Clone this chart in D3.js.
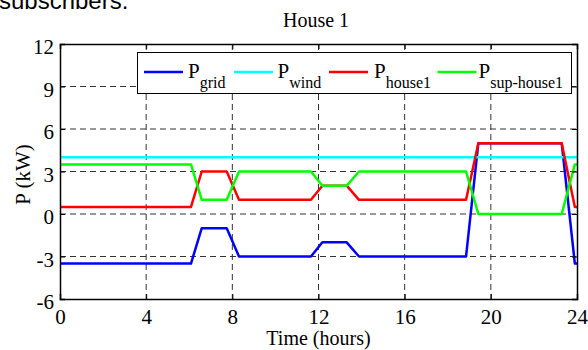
<!DOCTYPE html>
<html><head><meta charset="utf-8">
<script src="https://cdn.jsdelivr.net/npm/d3@7"></script>
<style>body{margin:0;background:#fff;}svg{display:block;}</style>
</head><body>
<script>
const hours = [0, 6.08, 6.58, 7.74, 8.31, 11.65, 12.18, 13.31, 13.88, 18.85, 19.42, 23.29, 23.9, 24];
const pGrid = [-3.5, -3.5, -1, -1, -3, -3, -2, -2, -3, -3, 5, 5, -3.5, -3.5];
const pWind = [4, 4, 4, 4, 4, 4, 4, 4, 4, 4, 4, 4, 4, 4];
const pHouse1 = [0.5, 0.5, 3, 3, 1, 1, 2, 2, 1, 1, 5, 5, 0.5, 0.5];
const pSupHouse1 = [3.5, 3.5, 1, 1, 3, 3, 2, 2, 3, 3, 0, 0, 3.5, 3.5];
const xTicks = [0, 4, 8, 12, 16, 20, 24];
const yTicks = [-6, -3, 0, 3, 6, 9, 12];
const seriesNames = [["P", "grid"], ["P", "wind"], ["P", "house1"], ["P", "sup-house1"]];
const seriesColors = ["#0000ff", "#00ffff", "#ff0000", "#00ff00"];

const W = 588, H = 350;
const m = {l: 60, r: 11, t: 44, b: 51};
const svg = d3.select("body").append("svg").attr("width", W).attr("height", H);
const x = d3.scaleLinear().domain([0, 24]).range([m.l, W - m.r]);
const y = d3.scaleLinear().domain([-6, 12]).range([H - m.b, m.t]);
const serif = "'Liberation Serif','Times New Roman',serif";

// leftover text from the page (cut at the top, as in the reference)
svg.append("text").attr("x", -1).attr("y", 9).attr("font-family", "'Liberation Sans',Arial,sans-serif")
  .attr("font-size", 24).text("subscribers.");

// grid
const g = svg.append("g");
g.selectAll(".gx").data(xTicks.slice(1, -1)).enter().append("line")
  .attr("x1", d => x(d)).attr("x2", d => x(d)).attr("y1", y(12)).attr("y2", y(-6))
  .attr("stroke", "#333").attr("stroke-width", 1).attr("stroke-dasharray", "6,4");
g.selectAll(".gy").data(yTicks.slice(1, -1)).enter().append("line")
  .attr("y1", d => y(d)).attr("y2", d => y(d)).attr("x1", x(0)).attr("x2", x(24))
  .attr("stroke", "#333").attr("stroke-width", 1).attr("stroke-dasharray", "6,4");

// lines
svg.append("clipPath").attr("id", "clip").append("rect")
  .attr("x", x(0)).attr("y", y(12)).attr("width", x(24) - x(0)).attr("height", y(-6) - y(12));
const series = [pGrid, pWind, pHouse1, pSupHouse1];
const line = d3.line().x(d => x(d[0])).y(d => y(d[1]));
series.forEach((s, i) => {
  svg.append("path").attr("clip-path", "url(#clip)")
    .attr("d", line(hours.map((h, j) => [h, s[j]])))
    .attr("fill", "none").attr("stroke", seriesColors[i]).attr("stroke-width", 2.5)
    .attr("stroke-linejoin", "round");
});

// axes
const fmt = d => String(d);
const axB = svg.append("g").attr("transform", `translate(0,${y(-6)})`)
  .call(d3.axisBottom(x).tickValues(xTicks).tickSize(-5).tickPadding(10).tickFormat(fmt));
const axT = svg.append("g").attr("transform", `translate(0,${y(12)})`)
  .call(d3.axisTop(x).tickValues(xTicks).tickSize(-5).tickFormat(""));
const axL = svg.append("g").attr("transform", `translate(${x(0)},0)`)
  .call(d3.axisLeft(y).tickValues(yTicks).tickSize(-5).tickPadding(6).tickFormat(fmt));
const axR = svg.append("g").attr("transform", `translate(${x(24)},0)`)
  .call(d3.axisRight(y).tickValues(yTicks).tickSize(-5).tickFormat(""));
[axB, axT, axL, axR].forEach(a => {
  a.select(".domain").attr("stroke", "#000").attr("stroke-width", 1.5);
  a.selectAll(".tick line").attr("stroke", "#000");
  a.selectAll("text").attr("font-family", serif).attr("font-size", 21).attr("fill", "#000");
});
axL.selectAll("text").attr("dy", "0.47em");

// titles
svg.append("text").attr("x", 316).attr("y", 27).attr("text-anchor", "middle")
  .attr("font-family", serif).attr("font-size", 20).text("House 1");
svg.append("text").attr("x", (x(0) + x(24)) / 2).attr("y", 345).attr("text-anchor", "middle")
  .attr("font-family", serif).attr("font-size", 20).text("Time (hours)");
svg.append("text").attr("transform", `translate(30,${y(3) + 3}) rotate(-90)`).attr("text-anchor", "middle")
  .attr("font-family", serif).attr("font-size", 21).text("P (kW)");

// legend
const lg = svg.append("g");
lg.append("rect").attr("x", 137.5).attr("y", 52.5).attr("width", 434).attr("height", 41)
  .attr("fill", "#fff").attr("stroke", "#000").attr("stroke-width", 1);
const lx = [144, 234, 329, 437.5];
const tx = [188, 277.5, 374, 478.5];
seriesNames.forEach((n, i) => {
  lg.append("line").attr("x1", lx[i]).attr("x2", lx[i] + 39).attr("y1", 72).attr("y2", 72)
    .attr("stroke", seriesColors[i]).attr("stroke-width", 2.5);
  const t = lg.append("text").attr("x", tx[i]).attr("y", 78)
    .attr("font-family", serif).attr("font-size", 21);
  t.append("tspan").text(n[0]);
  t.append("tspan").attr("dy", 10).attr("font-size", 16).text(n[1]);
});
</script>
</body></html>
